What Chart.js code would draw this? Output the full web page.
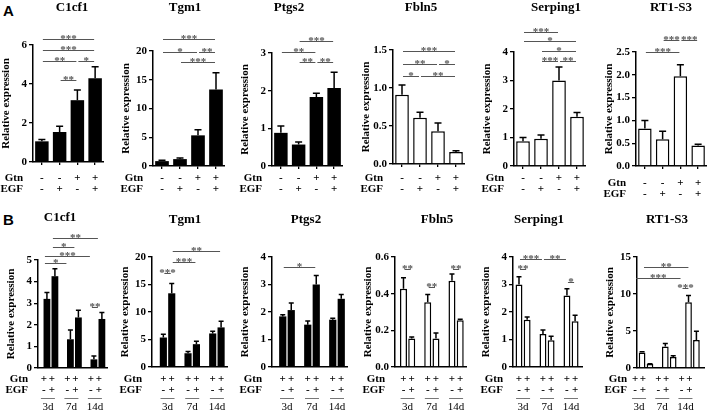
<!DOCTYPE html>
<html>
<head>
<meta charset="utf-8">
<script src="https://cdn.jsdelivr.net/npm/chart.js@4.4.0/dist/chart.umd.min.js"></script>
<style>
  body { margin: 0; background: #fff; }
  #fig { position: relative; width: 709px; height: 416px; overflow: hidden; background: #fff; }
  #fig canvas { position: absolute; }
  .tag { position: absolute; font: bold 15px "Liberation Sans", Arial, sans-serif; line-height: 17px; }
</style>
</head>
<body>
<div id="fig">
  <div class="tag" style="left:3px;top:2px">A</div>
  <div class="tag" style="left:3px;top:211px">B</div>
</div>
<script>
// ---------- data ----------
const genes = ['C1cf1', 'Tgm1', 'Ptgs2', 'Fbln5', 'Serping1', 'RT1-S3'];
const gtnA = ['-', '-', '+', '+'];
const egfA = ['-', '+', '-', '+'];
const days = ['3d', '7d', '14d'];
const gtnB = ['+', '+'];
const egfB = ['-', '+'];

// panel A: mean and SEM per condition
const meanA_C1cf1 = [1.06, 1.54, 3.17, 4.29];
const semA_C1cf1 = [0.09, 0.29, 0.52, 0.6];
const meanA_Tgm1 = [0.85, 1.2, 5.33, 13.3];
const semA_Tgm1 = [0.15, 0.2, 0.97, 2.9];
const meanA_Ptgs2 = [0.88, 0.57, 1.83, 2.07];
const semA_Ptgs2 = [0.18, 0.07, 0.1, 0.42];
const meanA_Fbln5 = [0.91, 0.61, 0.43, 0.157];
const semA_Fbln5 = [0.13, 0.07, 0.11, 0.018];
const meanA_Serping1 = [0.87, 0.96, 3.0, 1.73];
const semA_Serping1 = [0.13, 0.13, 0.47, 0.15];
const meanA_RT1S3 = [0.82, 0.585, 1.97, 0.45];
const semA_RT1S3 = [0.18, 0.175, 0.25, 0.025];

// panel B: EGF- and EGF+ per day (3d, 7d, 14d)
const minusB_C1cf1 = [3.2, 1.33, 0.4],  minusErrB_C1cf1 = [0.3, 0.43, 0.15];
const plusB_C1cf1 = [4.25, 2.34, 2.27], plusErrB_C1cf1 = [0.35, 0.33, 0.3];
const minusB_Tgm1 = [5.36, 2.5, 6.1],   minusErrB_Tgm1 = [0.6, 0.3, 0.4];
const plusB_Tgm1 = [13.4, 4.15, 7.2],   plusErrB_Tgm1 = [1.8, 0.55, 1.1];
const minusB_Ptgs2 = [1.84, 1.54, 1.72], minusErrB_Ptgs2 = [0.06, 0.13, 0.05];
const plusB_Ptgs2 = [2.07, 3.0, 2.48],   plusErrB_Ptgs2 = [0.26, 0.33, 0.16];
const minusB_Fbln5 = [0.427, 0.353, 0.47], minusErrB_Fbln5 = [0.06, 0.042, 0.037];
const plusB_Fbln5 = [0.155, 0.155, 0.255], plusErrB_Fbln5 = [0.009, 0.03, 0.006];
const minusB_Serping1 = [3.0, 1.2, 2.6],  minusErrB_Serping1 = [0.28, 0.15, 0.25];
const plusB_Serping1 = [1.72, 0.97, 1.66], plusErrB_Serping1 = [0.1, 0.15, 0.22];
const minusB_RT1S3 = [2.1, 2.9, 8.9],  minusErrB_RT1S3 = [0.1, 0.4, 0.9];
const plusB_RT1S3 = [0.54, 1.5, 3.8],  plusErrB_RT1S3 = [0.05, 0.16, 1.15];

// y axes
const yMaxA = [6, 20, 3, 1.5, 4, 2.5];
const yStepA = [2, 5, 1, 0.5, 1, 0.5];
const yDecA = [0, 0, 0, 1, 0, 1];
const yMaxB = [5, 20, 4, 0.6, 4, 15];
const yStepB = [1, 5, 1, 0.2, 1, 5];
const yDecB = [0, 0, 0, 1, 0, 0];

// significance: [from bar, to bar, height (data units), stars]
const sigA_C1cf1 = [[0, 3, 6.31, '***'], [0, 3, 5.74, '***'], [0, 2, 5.18, '**'], [2, 3, 5.18, '*'], [1, 2, 4.2, '**']];
const sigA_Tgm1 = [[0, 3, 22.1, '***'], [0, 2, 19.8, '*'], [2, 3, 19.8, '**'], [1, 3, 18.1, '***']];
const sigA_Ptgs2 = [[1, 3, 3.32, '***'], [0, 2, 3.03, '**'], [1, 2, 2.76, '**'], [2, 3, 2.76, '**']];
const sigA_Fbln5 = [[0, 3, 1.49, '***'], [0, 2, 1.32, '**'], [2, 3, 1.32, '*'], [0, 1, 1.16, '*'], [1, 3, 1.16, '**']];
const sigA_Serping1 = [[0, 2, 4.7, '***'], [0, 3, 4.39, '*'], [1, 3, 4.04, '*'], [1, 2, 3.68, '***'], [2, 3, 3.68, '**']];
const sigA_RT1S3 = [[1, 2, 2.76, '***'], [2, 3, 2.76, '***'], [0, 2, 2.5, '***']];
// bars in B are numbered day*2 + (EGF- 0 / EGF+ 1)
const sigB_C1cf1 = [[1, 5, 6.02, '**'], [1, 3, 5.6, '*'], [0, 4, 5.19, '***'], [0, 2, 4.86, '*'], [4, 5, 2.82, '**']];
const sigB_Tgm1 = [[1, 5, 21.1, '**'], [1, 3, 19.1, '***'], [0, 1, 17.1, '***']];
const sigB_Ptgs2 = [[0, 3, 3.64, '*']];
const sigB_Fbln5 = [[0, 1, 0.535, '**'], [2, 3, 0.436, '**'], [4, 5, 0.535, '**']];
const sigB_Serping1 = [[0, 2, 3.93, '***'], [2, 4, 3.93, '**'], [0, 1, 3.56, '**'], [4, 5, 3.09, '*']];
const sigB_RT1S3 = [[1, 5, 13.6, '**'], [0, 4, 12.2, '***'], [4, 5, 10.8, '***']];

const meanA = [meanA_C1cf1, meanA_Tgm1, meanA_Ptgs2, meanA_Fbln5, meanA_Serping1, meanA_RT1S3];
const semA = [semA_C1cf1, semA_Tgm1, semA_Ptgs2, semA_Fbln5, semA_Serping1, semA_RT1S3];
const sigA = [sigA_C1cf1, sigA_Tgm1, sigA_Ptgs2, sigA_Fbln5, sigA_Serping1, sigA_RT1S3];
const minusB = [minusB_C1cf1, minusB_Tgm1, minusB_Ptgs2, minusB_Fbln5, minusB_Serping1, minusB_RT1S3];
const minusErrB = [minusErrB_C1cf1, minusErrB_Tgm1, minusErrB_Ptgs2, minusErrB_Fbln5, minusErrB_Serping1, minusErrB_RT1S3];
const plusB = [plusB_C1cf1, plusB_Tgm1, plusB_Ptgs2, plusB_Fbln5, plusB_Serping1, plusB_RT1S3];
const plusErrB = [plusErrB_C1cf1, plusErrB_Tgm1, plusErrB_Ptgs2, plusErrB_Fbln5, plusErrB_Serping1, plusErrB_RT1S3];
const sigB = [sigB_C1cf1, sigB_Tgm1, sigB_Ptgs2, sigB_Fbln5, sigB_Serping1, sigB_RT1S3];

// ---------- layout (page pixels) ----------
const layoutA = [
  { axis: 33, right: 104, top: 45, bottom: 162, titleX: 72, rowY: 178 },
  { axis: 153, right: 225, top: 51, bottom: 166, titleX: 185, rowY: 178 },
  { axis: 272, right: 343, top: 53, bottom: 166, titleX: 289, rowY: 178 },
  { axis: 393, right: 465, top: 50, bottom: 164, titleX: 421, rowY: 178 },
  { axis: 514, right: 586, top: 52, bottom: 166, titleX: 556, rowY: 178 },
  { axis: 636, right: 707, top: 52, bottom: 166, titleX: 671, rowY: 183 }
];
const layoutB = [
  { axis: 38, right: 108, xMin: 0.45, xMax: 3.43, top: 260, bottom: 368, titleX: 60, shift: -3 },
  { axis: 152, right: 228, xMin: 0.37, xMax: 3.45, top: 257, bottom: 367, titleX: 185, shift: 0 },
  { axis: 272, right: 348, xMin: 0.4, xMax: 3.44, top: 257, bottom: 367, titleX: 306, shift: 0 },
  { axis: 395, right: 467, xMin: 0.48, xMax: 3.45, top: 257, bottom: 367, titleX: 437, shift: 0 },
  { axis: 513, right: 583, xMin: 0.58, xMax: 3.5, top: 257, bottom: 367, titleX: 539, shift: 0 },
  { axis: 637, right: 705, xMin: 0.61, xMax: 3.54, top: 257, bottom: 368, titleX: 667, shift: -7 }
];
const YW = 33;          // width of the y axis box
const SERIF = '"Liberation Serif", "Times New Roman", serif';
Chart.defaults.font.family = SERIF;

const fig = document.getElementById('fig');
function addCanvas(left, top, w, h) {
  const c = document.createElement('canvas');
  c.width = w; c.height = h;
  c.style.left = left + 'px'; c.style.top = top + 'px';
  c.style.width = w + 'px'; c.style.height = h + 'px';
  fig.appendChild(c);
  return c;
}

// error bars, brackets, titles and the Gtn/EGF rows
const annot = {
  id: 'annot',
  afterDatasetsDraw(chart, args, o) {
    const ctx = chart.ctx, ys = chart.scales.y;
    ctx.save();
    ctx.strokeStyle = '#000';
    ctx.lineWidth = 1.5;
    chart.data.datasets.forEach((ds, di) => {
      chart.getDatasetMeta(di).data.forEach((bar, j) => {
        const v = ds.data[j].y ?? ds.data[j];
        const py = ys.getPixelForValue(v + ds.errs[j]);
        ctx.beginPath();
        ctx.moveTo(bar.x, bar.y);
        ctx.lineTo(bar.x, py);
        ctx.moveTo(bar.x - o.cap / 2, py);
        ctx.lineTo(bar.x + o.cap / 2, py);
        ctx.stroke();
      });
    });
    ctx.restore();
  },
  afterDraw(chart, args, o) {
    const ctx = chart.ctx, ys = chart.scales.y, area = chart.chartArea;
    const bars = [];
    if (o.grouped) {
      for (let g = 0; g < days.length; g++)
        for (let d = 0; d < 2; d++) bars.push(chart.getDatasetMeta(d).data[g]);
    } else {
      bars.push(...chart.getDatasetMeta(0).data);
    }
    ctx.save();
    ctx.strokeStyle = '#555';
    ctx.fillStyle = '#555';
    ctx.lineWidth = 1;
    ctx.font = 'bold 11px ' + SERIF;
    ctx.textAlign = 'center';
    ctx.textBaseline = 'alphabetic';
    o.sig.forEach(([a, b, v, s]) => {
      const x1 = bars[a].x + o.shift - 1, x2 = bars[b].x + o.shift + 1;
      const py = Math.round(ys.getPixelForValue(v)) + 0.5;
      ctx.beginPath();
      ctx.moveTo(x1 + 2, py);
      ctx.lineTo(x2 - 2, py);
      ctx.stroke();
      ctx.fillText(s, (x1 + x2) / 2, py + 2);
    });

    ctx.fillStyle = '#000';
    ctx.textBaseline = 'middle';
    ctx.font = 'bold 13px ' + SERIF;
    ctx.fillText(o.title, o.titleX, o.titleY);

    ctx.font = 'bold 11px ' + SERIF;
    o.rows.forEach(([name, marks], r) => {
      const y = o.rowY + r * 11;
      ctx.textAlign = 'right';
      ctx.fillText(name, area.left - 10, y);
      ctx.textAlign = 'center';
      bars.forEach((bar, k) => ctx.fillText(marks[k % marks.length], bar.x + o.shift, y));
    });

    if (o.grouped) {
      ctx.font = '11px ' + SERIF;
      ctx.strokeStyle = '#777';
      days.forEach((d, g) => {
        const cx = (bars[2 * g].x + bars[2 * g + 1].x) / 2 + o.shift;
        ctx.beginPath();
        ctx.moveTo(cx - 7, o.lineY + 0.5);
        ctx.lineTo(cx + 7, o.lineY + 0.5);
        ctx.stroke();
        ctx.fillText(d, cx, o.dayY);
      });
    }
    ctx.restore();
  }
};

function yScale(max, step, dec) {
  return {
    min: 0, max: max,
    ticks: { stepSize: step, color: '#000', padding: 2, font: { size: 11, weight: 'bold' }, callback: v => v.toFixed(dec) },
    grid: { drawOnChartArea: false, tickLength: 4, color: '#000', lineWidth: 1.3 },
    border: { color: '#000', width: 1.5 },
    title: { display: true, text: 'Relative expression', color: '#000', font: { size: 11, weight: 'bold' }, padding: { top: 0, bottom: 0 } },
    afterFit: s => { s.width = YW; }
  };
}

function barStyle(white, bp, cp) {
  return { backgroundColor: white ? '#fff' : '#000', borderColor: '#000', borderWidth: white ? 1.5 : 0, barPercentage: bp, categoryPercentage: cp };
}

// ---------- panel A ----------
genes.forEach((gene, i) => {
  const L = layoutA[i];
  const left = L.axis - YW, h = 205, w = L.right - left;
  new Chart(addCanvas(left, 0, w, h), {
    type: 'bar',
    data: {
      labels: gtnA.map((g, k) => 'Gtn' + g + ' EGF' + egfA[k]),
      datasets: [Object.assign({ data: meanA[i], errs: semA[i] }, barStyle(i >= 3, 0.76, 1))]
    },
    options: {
      responsive: false, animation: false, devicePixelRatio: 1,
      layout: { padding: { top: L.top, right: 0, bottom: 0, left: 0 } },
      plugins: {
        legend: { display: false }, tooltip: { enabled: false },
        annot: { title: gene, titleX: L.titleX - left, titleY: 8, sig: sigA[i], cap: 7,
                 rows: [['Gtn', gtnA], ['EGF', egfA]], rowY: L.rowY, grouped: false, shift: 0 }
      },
      scales: {
        x: {
          offset: true,
          ticks: { display: false },
          grid: { offset: false, drawOnChartArea: false, tickLength: 3, color: '#000', lineWidth: 1.3 },
          border: { color: '#000', width: 1.5 },
          afterFit: s => { s.height = h - L.bottom; }
        },
        y: yScale(yMaxA[i], yStepA[i], yDecA[i])
      }
    },
    plugins: [annot]
  });
});

// ---------- panel B ----------
genes.forEach((gene, i) => {
  const L = layoutB[i];
  const top = 205, left = L.axis - YW, h = 211, w = L.right - left;
  const st = barStyle(i >= 3, 0.85, 0.68);
  new Chart(addCanvas(left, top, w, h), {
    type: 'bar',
    data: {
      datasets: [
        Object.assign({ label: 'EGF-', data: minusB[i].map((v, k) => ({ x: k + 1, y: v })), errs: minusErrB[i] }, st),
        Object.assign({ label: 'EGF+', data: plusB[i].map((v, k) => ({ x: k + 1, y: v })), errs: plusErrB[i] }, st)
      ]
    },
    options: {
      responsive: false, animation: false, devicePixelRatio: 1,
      layout: { padding: { top: L.top - top, right: 0, bottom: 0, left: 0 } },
      plugins: {
        legend: { display: false }, tooltip: { enabled: false },
        annot: { title: gene, titleX: L.titleX - left, titleY: i === 0 ? 13 : 15, sig: sigB[i], cap: 5,
                 rows: [['Gtn', gtnB], ['EGF', egfB]], rowY: 174, lineY: 193, dayY: 202,
                 grouped: true, shift: L.shift }
      },
      scales: {
        x: {
          type: 'linear', min: L.xMin, max: L.xMax, offset: false,
          ticks: { display: false },
          grid: { display: false },
          border: { color: '#000', width: 1.5 },
          afterBuildTicks: s => { s.ticks = days.map((d, k) => ({ value: k + 1 })); },
          afterFit: s => { s.height = h - (L.bottom - top); }
        },
        y: yScale(yMaxB[i], yStepB[i], yDecB[i])
      }
    },
    plugins: [annot]
  });
});
</script>
</body>
</html>
